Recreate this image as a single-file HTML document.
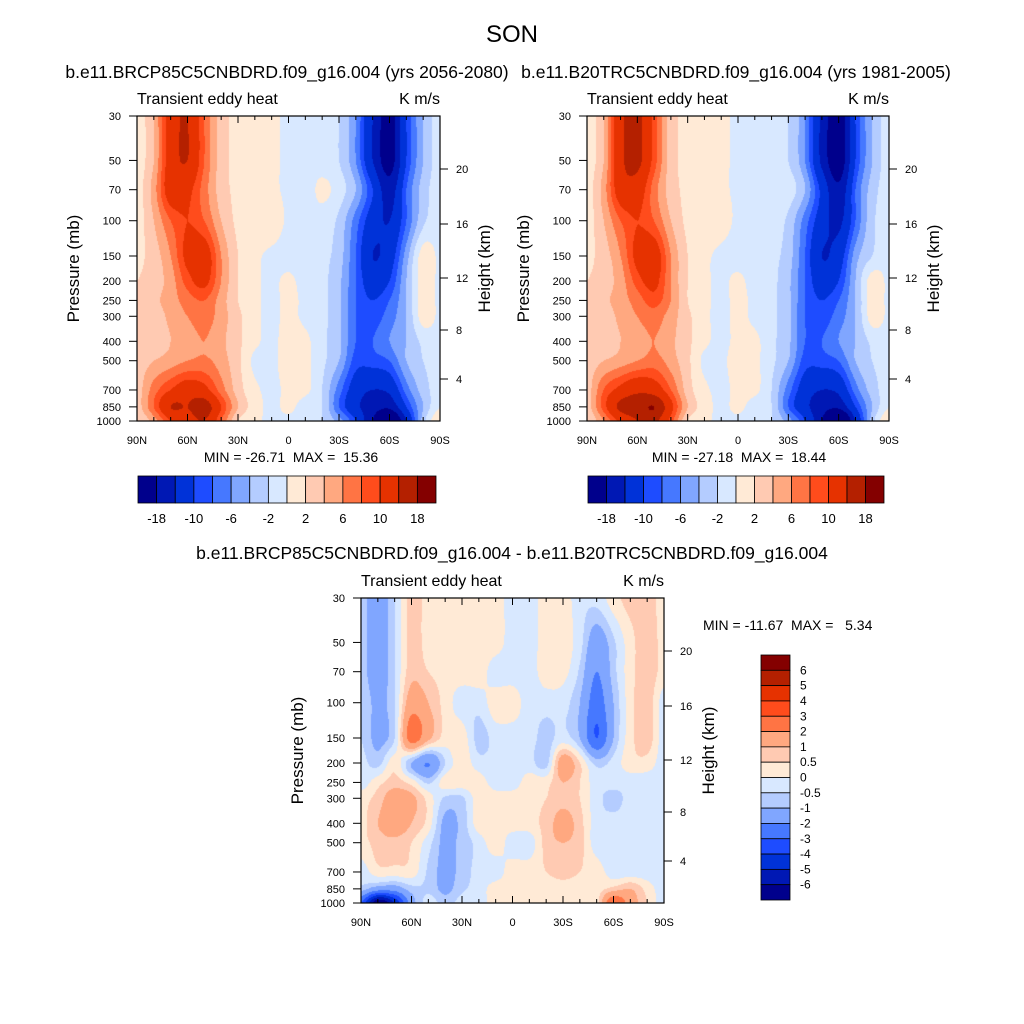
<!DOCTYPE html>
<html><head><meta charset="utf-8"><style>
body{margin:0;background:#fff;}
#root{position:relative;width:1024px;height:1024px;overflow:hidden;font-family:"Liberation Sans",sans-serif;}
canvas{position:absolute;}
svg{position:absolute;left:0;top:0;}
text{white-space:pre;}
</style></head><body>
<div id="root">
<canvas id="c1" width="303" height="305" style="left:137px;top:116px"></canvas>
<canvas id="c2" width="302" height="305" style="left:587px;top:116px"></canvas>
<canvas id="c3" width="303" height="305" style="left:361px;top:598px"></canvas>
<svg id="s" width="1024" height="1024"></svg>
</div>
<script>
const palette=["#00008c","#0018b4","#0032d8","#1e4cff","#4678ff","#80a6ff","#b4ccff","#d8e8ff","#ffead6","#ffcab2","#ffa880","#ff7444","#ff4c1c","#e63200","#b42000","#840000"];
const levelsAbs=[-18,-14,-10,-8,-6,-4,-2,0,2,4,6,8,10,14,18];
const levelsDiff=[-6,-5,-4,-3,-2,-1,-0.5,0,0.5,1,2,3,4,5,6];
const pressures=[30,50,70,100,150,200,250,300,400,500,700,850,1000];
const latLabels=["90N","60N","30N","0","30S","60S","90S"];
const pTicks=[30,50,70,100,150,200,250,300,400,500,700,850,1000];
const hTicks=[4,8,12,16,20];
const hOffsets=[263,214,162,108,53];
// columns: 90N..90S every 10 deg; rows: pressures 30..1000
const future=[
[1,4,12,14,8,3,1.5,1,0.5,-0.5,-1,-1,-2,-6,-14,-20,-10,-4,-1],
[1,4,12,14,8,3,1.5,1,0.5,-0.5,-1,-1,-2,-6,-14,-20,-10,-4,-1],
[1,5,12,11,7,3,1.5,1,0.5,-0.5,-1,0.5,-1,-4,-10,-16,-8,-3,-1],
[1,4,8,10,8,4,1.5,1,1.5,-0.5,-1,-1,-2.5,-7,-12,-14,-8,-2.5,-1],
[1.5,3,6,11,12,6,2,0.5,-0.5,-1,-1,-1.5,-3,-8,-14,-12,-5,1,-0.5],
[2,3,5,9,11,6,2,0.5,-0.5,0.5,-1,-1.5,-3.5,-8,-12,-10,-4,1,-0.5],
[2.5,3.5,5,7,8,5,2,0.5,-0.5,0.5,-0.5,-1.5,-3.5,-8,-10,-8,-4,1,-0.5],
[2.5,3,4.5,6,7,5,2.5,0.5,-0.5,0.5,-0.5,-1.5,-3.5,-8,-9,-7,-4,1,-0.5],
[2.5,3,4,5,6,4.5,2.5,0.5,-0.5,1,0.5,-1.5,-3.5,-8,-8,-6,-4,-1.5,-1],
[3,4,5,6,6.5,5,2.5,-0.5,-0.5,1,0.5,-1.5,-4,-9,-9,-8,-4,-2,-1],
[3,7,10,12,11,7,3,0.5,-0.5,0.5,0.5,-2,-7,-12,-14,-13,-7,-3,-1],
[3,8,14,14,16,10,4,1,-0.5,0.5,-1,-2,-8,-13,-16,-17,-10,-4,0],
[2,5,10,12,14,8,2,0.5,-0.5,-0.5,-1,-2,-5,-10,-18,-25,-14,-3,2]];
const historical=[
[1,4,13,15,9,3,1.5,1,0.5,-0.5,-1,-1,-2,-6,-15,-21,-10,-4,-1],
[1,4,13,15,9,3,1.5,1,0.5,-0.5,-1,-1,-2,-6,-15,-21,-10,-4,-1],
[1,5,12,12,7,3,1.5,1,0.5,-0.5,-1,-1,-1,-4,-11,-17,-8,-3,-1],
[1,4,8,10,8,4,1.5,1,1,-0.5,-1,-1,-2.5,-7,-12,-15,-8,-2.5,-1],
[1.5,3,6,11,12,6,2,0.5,-0.5,-1,-1,-1.5,-3,-8,-14,-12,-5,-2,-0.5],
[2,3,5,9,11,6,2,0.5,-0.5,0.5,-1,-1.5,-3.5,-8,-12,-10,-4,1,-0.5],
[2.5,3.5,5,7,9,6,2,0.5,-0.5,0.5,-0.5,-1.5,-3.5,-8,-10,-8,-4,1,-0.5],
[2.5,3,4.5,6,7,5,2.5,0.5,-0.5,0.5,-0.5,-1.5,-3.5,-8,-9,-7,-4,1,-0.5],
[2.5,3,4,5,6,4.5,2.5,0.5,-0.5,0.5,0.5,-1.5,-3.5,-8,-8,-6,-4,-1.5,-1],
[3,4,5,6,7,5,2.5,-0.5,-0.5,1,0.5,-1.5,-4,-9,-9,-8,-4,-2,-1],
[3,8,11,13,12,8,3,0.5,-0.5,0.5,0.5,-2,-7,-12,-14,-13,-7,-3,-1],
[3,9,15,16,18,11,4,1,-0.5,0.5,-1,-2,-8,-13,-16,-17,-10,-4,0],
[2,6,11,14,15,9,2,0.5,-0.5,-0.5,-1,-2,-5,-10,-18,-27,-14,-3,2]];
const difference=[
[-0.7,-1.5,-0.5,0.7,0.3,0.3,0.3,0.3,0.3,-0.3,-0.3,0.3,0.3,-0.3,-0.3,0.3,0.7,0.7,0.3],
[-0.7,-1.5,-0.5,0.7,0.3,0.3,0.3,0.3,0.3,-0.3,-0.3,0.3,0.3,-0.3,-1.5,-0.6,0.3,0.8,0.3],
[-0.7,-1.5,-0.5,0.8,0.5,0.3,0.3,0.3,-0.3,-0.3,-0.3,0.3,0.2,-0.6,-2,-0.7,0.3,0.8,0.3],
[-0.5,-1.2,-0.5,1.5,1,0.3,-0.3,-0.3,0.3,0.3,-0.3,-0.3,-0.3,-1,-2.5,-1,0.3,0.8,-0.3],
[-0.5,-1.2,-0.5,2.5,1.2,0.3,0.3,-0.7,-0.3,-0.3,-0.3,-0.7,-0.3,-1,-3,-1,0.3,0.8,-0.3],
[-0.3,-0.7,0.3,-1,-2,-0.5,0.3,-0.3,-0.3,-0.3,-0.3,-0.7,1.5,0.5,-0.7,-0.3,0.3,0.3,-0.3],
[-0.3,0.3,0.7,0.3,-0.6,0.3,0.3,0.3,-0.3,-0.3,0.3,0.3,1,0.5,-0.3,-0.3,-0.3,-0.3,-0.3],
[0.3,0.7,1.5,1.2,0.3,-0.6,-0.6,0.3,0.3,0.3,0.3,0.5,0.8,0.5,-0.3,-0.7,-0.3,-0.3,-0.3],
[0.3,1,1.5,1,0.3,-1.2,-0.8,0.3,0.3,0.3,0.3,0.7,1.3,0.7,-0.3,-0.3,-0.3,-0.3,-0.3],
[0.3,0.7,0.8,0.5,-0.3,-1.2,-0.8,-0.3,0.3,-0.3,-0.3,0.7,1,0.7,-0.3,-0.3,-0.3,-0.3,-0.3],
[-0.3,0.3,0.3,0.3,-0.6,-1.2,-0.8,-0.3,-0.3,0.3,0.3,0.5,0.7,0.5,0.3,-0.3,-0.3,-0.3,-0.3],
[-0.7,-1.5,-1.5,-0.7,-0.6,-1.2,-0.6,-0.3,0.3,0.3,0.3,0.3,0.3,0.3,0.3,0.7,1,0.3,-0.3],
[-3,-7,-5,-1.5,-0.3,-0.7,-0.3,-0.3,0.3,0.3,0.3,0.3,0.3,0.3,0.3,3,1.5,0.5,-0.3]];

const L30=Math.log(30),L1000=Math.log(1000);
function pFrac(p){return (Math.log(p)-L30)/(L1000-L30);}
function colorFor(v,lv){let i=0;while(i<lv.length&&v>=lv[i])i++;return palette[i];}
function cr(p0,p1,p2,p3,t){return 0.5*((2*p1)+(-p0+p2)*t+(2*p0-5*p1+4*p2-p3)*t*t+(-p0+3*p1-3*p2+p3)*t*t*t);}
function drawField(id,grid,lv){
  const c=document.getElementById(id),ctx=c.getContext('2d'),W=c.width,H=c.height;
  const fr=pressures.map(pFrac); const nR=grid.length,nC=grid[0].length;
  const g=(r,i)=>grid[Math.max(0,Math.min(nR-1,r))][Math.max(0,Math.min(nC-1,i))];
  for(let y=0;y<H;y++){
    const f=(y+0.5)/H; let r=0; while(r<fr.length-2&&f>fr[r+1])r++;
    const t=Math.min(1,Math.max(0,(f-fr[r])/(fr[r+1]-fr[r])));
    for(let x=0;x<W;x++){
      const gx=(x+0.5)/W*(nC-1); const i=Math.min(nC-2,Math.floor(gx)); const s=gx-i;
      const col=[-1,0,1,2].map(dr=>cr(g(r+dr,i-1),g(r+dr,i),g(r+dr,i+1),g(r+dr,i+2),s));
      ctx.fillStyle=colorFor(cr(col[0],col[1],col[2],col[3],t),lv); ctx.fillRect(x,y,1,1);
    }
  }
}
drawField('c1',future,levelsAbs);
drawField('c2',historical,levelsAbs);
drawField('c3',difference,levelsDiff);

const svg=document.getElementById('s');const NS="http://www.w3.org/2000/svg";
function el(tag,attrs,name,text){const e=document.createElementNS(NS,tag);for(const k in attrs)e.setAttribute(k,attrs[k]);


if(text!==undefined)e.textContent=text;svg.appendChild(e);return e;}
function txt(x,y,s,size,anchor,name,rot){const a={x:x,y:y,'font-size':size,'text-anchor':anchor||'middle',fill:'#000','font-family':'Liberation Sans, sans-serif'};if(rot)a.transform='rotate(-90 '+x+' '+y+')';return el('text',a,name,s);}
function panel(X,Y,W,H,pfx){
  el('rect',{x:X,y:Y,width:W,height:H,fill:'none',stroke:'#000','stroke-width':1.2},pfx+'-plot-frame');
  for(let d=0;d<=180;d+=10){const x=X+W*d/180;const len=(d%30===0)?7:4;
    el('line',{x1:x,y1:Y,x2:x,y2:Y+len,stroke:'#000'},pfx+'-top-tick');
    el('line',{x1:x,y1:Y+H,x2:x,y2:Y+H-len,stroke:'#000'},pfx+'-bottom-tick');}
  latLabels.forEach((s,k)=>txt(X+W*k/6,Y+H+23,s,11,'middle',pfx+'-x-tick-label'));
  pTicks.forEach(p=>{const y=Y+H*pFrac(p);el('line',{x1:X-8,y1:y,x2:X,y2:y,stroke:'#000'},pfx+'-y-tick');txt(X-16,y+4,String(p),11,'end',pfx+'-y-tick-label');});
  hTicks.forEach((h,k)=>{const y=Y+hOffsets[k];el('line',{x1:X+W,y1:y,x2:X+W+8,y2:y,stroke:'#000'},pfx+'-height-tick');txt(X+W+16,y+4,String(h),11,'start',pfx+'-height-tick-label');});
  txt(X-58,Y+H/2,'Pressure (mb)',17,'middle',pfx+'-y-axis-title',true);
  txt(X+W+50,Y+H/2,'Height (km)',17,'middle',pfx+'-right-axis-title',true);
  txt(X,Y-12,'Transient eddy heat',16,'start',pfx+'-left-title');
  txt(X+W,Y-12,'K m/s',16,'end',pfx+'-right-title');
}
txt(512,42,'SON',24,'middle','main-title');
txt(287,78,'b.e11.BRCP85C5CNBDRD.f09_g16.004 (yrs 2056-2080)',17.5,'middle','future-panel-title');
txt(736,78,'b.e11.B20TRC5CNBDRD.f09_g16.004 (yrs 1981-2005)',17.5,'middle','historical-panel-title');
txt(512,559,'b.e11.BRCP85C5CNBDRD.f09_g16.004 - b.e11.B20TRC5CNBDRD.f09_g16.004',17.5,'middle','difference-panel-title');
panel(137,116,303,305,'future');
panel(587,116,302,305,'historical');
panel(361,598,303,305,'difference');
txt(291,462,'MIN = -26.71  MAX =  15.36',14,'middle','future-min-max');
txt(739,462,'MIN = -27.18  MAX =  18.44',14,'middle','historical-min-max');
txt(703,630,'MIN = -11.67  MAX =   5.34',14,'start','difference-min-max');
const hbarLabels=["-18","-10","-6","-2","2","6","10","18"];
function hbar(X,Y,W,H,pfx){const bw=W/16;
  palette.forEach((c,i)=>el('rect',{x:X+i*bw,y:Y,width:bw,height:H,fill:c,stroke:'#000','stroke-width':0.8},pfx+'-colorbar-box'));
  hbarLabels.forEach((s,k)=>txt(X+bw*(1+2*k),Y+H+20,s,13,'middle',pfx+'-colorbar-label'));}
hbar(138,476,298,27,'future');
hbar(588,476,296,27,'historical');
const vbarLabels=["6","5","4","3","2","1","0.5","0","-0.5","-1","-2","-3","-4","-5","-6"];
(function(){const X=761,Y=655,W=29,H=245,bh=H/16;
  palette.slice().reverse().forEach((c,i)=>el('rect',{x:X,y:Y+i*bh,width:W,height:bh,fill:c,stroke:'#000','stroke-width':0.8},'difference-colorbar-box'));
  vbarLabels.forEach((s,k)=>txt(X+W+10,Y+bh*(k+1)+4,s,12,'start','difference-colorbar-label'));})();
</script>
</body></html>
